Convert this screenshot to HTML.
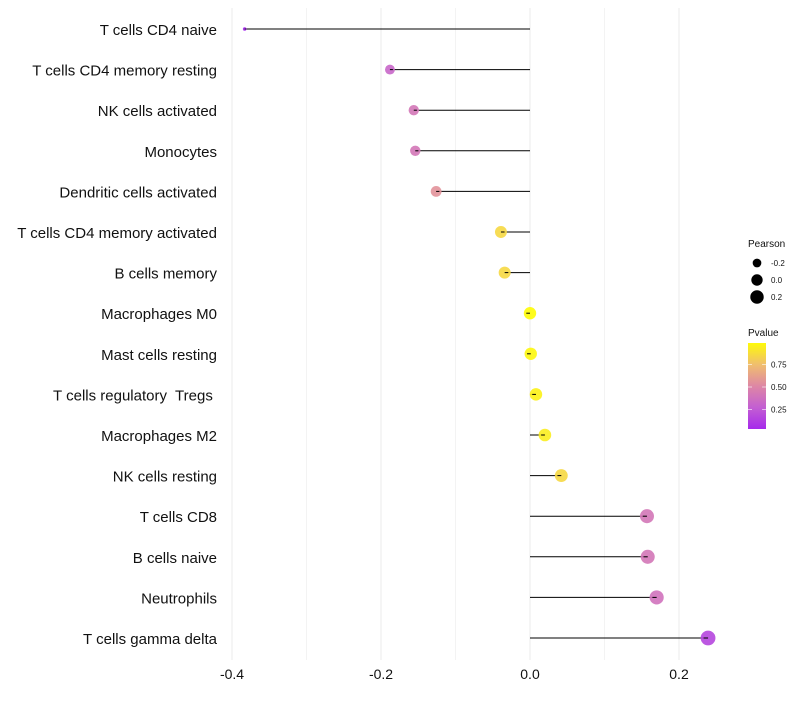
<!DOCTYPE html>
<html><head><meta charset="utf-8"><style>
body{margin:0;background:#fff;font-family:"Liberation Sans",sans-serif}
text{white-space:pre}
</style></head><body>
<svg id="c" width="800" height="700"></svg>
<script>
const cats=["T cells CD4 naive","T cells CD4 memory resting","NK cells activated","Monocytes","Dendritic cells activated","T cells CD4 memory activated","B cells memory","Macrophages M0","Mast cells resting","T cells regulatory  Tregs ","Macrophages M2","NK cells resting","T cells CD8","B cells naive","Neutrophils","T cells gamma delta"];
const pearson=[-0.383,-0.188,-0.156,-0.154,-0.126,-0.039,-0.034,0.0,0.001,0.008,0.02,0.042,0.157,0.158,0.170,0.239];
const pvalue=[0.02,0.3,0.4,0.4,0.55,0.85,0.85,0.99,0.97,0.95,0.93,0.85,0.4,0.4,0.37,0.15];
const xticks=[-0.4,-0.2,0.0,0.2];
const xtickLabels=["-0.4","-0.2","0.0","0.2"];
const sizeLegend=[-0.2,0.0,0.2];
const pTicks=[0.25,0.5,0.75];

const NS="http://www.w3.org/2000/svg",svg=document.getElementById('c');
const X=v=>530+v*745;
const Y=i=>29+i*40.6;
const pmin=Math.min(...pearson),pmax=Math.max(...pearson);
const R=v=>1.8+5.6*Math.sqrt(Math.max(0,(v-pmin)/(pmax-pmin)));
const P=p=>432-p*90;
const stops=[[0,[160,32,240]],[0.25,[195,95,210]],[0.5,[222,135,165]],[0.75,[240,190,110]],[1,[255,255,0]]];
function col(p){for(let k=1;k<stops.length;k++){if(p<=stops[k][0]){const [p0,a]=stops[k-1],[p1,b]=stops[k];const t=(p-p0)/(p1-p0);
return `rgb(${a.map((c,i)=>Math.round(c+(b[i]-c)*t)).join(',')})`;}}return 'rgb(255,255,0)';}
function el(t,at,parent){const e=document.createElementNS(NS,t);for(const k in at)e.setAttribute(k,at[k]);(parent||svg).appendChild(e);return e;}
for(let v=-0.4;v<=0.2001;v+=0.1){const g=el('line',{x1:X(v),x2:X(v),y1:8,y2:660,stroke:'#ebebeb','stroke-width':Math.abs(Math.round(v*10))%2==0?1:0.6});
}
xticks.forEach((v,i)=>{const t=el('text',{x:X(v),y:679,'text-anchor':'middle','font-size':14,fill:'#111'});t.textContent=xtickLabels[i];
});
cats.forEach((c,i)=>{
const t=el('text',{x:217,y:Y(i)+6,'text-anchor':'end','font-size':15,fill:'#111'});t.textContent=c;

const l=el('line',{x1:X(0),x2:X(pearson[i]),y1:Y(i),y2:Y(i),stroke:'#000','stroke-width':1});

const d=el('circle',{cx:X(pearson[i]),cy:Y(i),r:R(pearson[i]),fill:col(pvalue[i]),'fill-opacity':0.9});

const l2=el('line',{x1:X(pearson[i])-(pearson[i]<0?0:R(pearson[i])*0.6),x2:X(pearson[i])+(pearson[i]<0?R(pearson[i])*0.6:0),y1:Y(i),y2:Y(i),stroke:'#000','stroke-width':1});

});
const lt=el('text',{x:748,y:247,'font-size':10,fill:'#111'});lt.textContent='Pearson';

sizeLegend.forEach((v,i)=>{const y=263+i*17;
const c=el('circle',{cx:757,cy:y,r:R(v)-0.5,fill:'#000'});
const t=el('text',{x:771,y:y+3,'font-size':8,fill:'#111'});t.textContent=v.toFixed(1);});
const pt=el('text',{x:748,y:336,'font-size':10,fill:'#111'});pt.textContent='Pvalue';

const defs=el('defs',{});const g=el('linearGradient',{id:'gr',x1:0,y1:1,x2:0,y2:0},defs);
[0.04,0.25,0.5,0.75,0.98].forEach((p,k)=>el('stop',{offset:k/4,'stop-color':col(p)},g));
const bar=el('rect',{x:748,y:343,width:18,height:86,fill:'url(#gr)'});

pTicks.forEach(p=>{el('line',{x1:748,x2:752,y1:P(p),y2:P(p),stroke:'#fff','stroke-width':0.6});el('line',{x1:762,x2:766,y1:P(p),y2:P(p),stroke:'#fff','stroke-width':0.6});
const t=el('text',{x:771,y:P(p)+3,'font-size':8,fill:'#111'});t.textContent=p.toFixed(2);
});
</script>
</body></html>
